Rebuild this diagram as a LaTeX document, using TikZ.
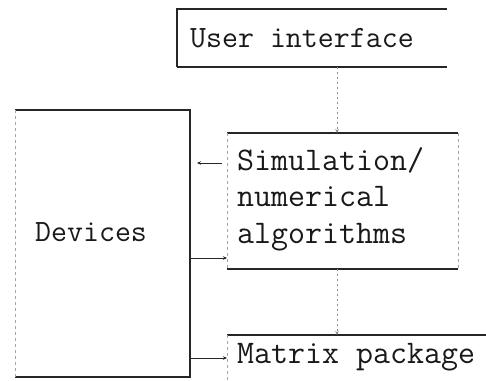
\documentclass[tikz,border=0pt]{standalone}
\usetikzlibrary{arrows.meta}
\begin{document}
\begin{tikzpicture}[x=1pt,y=-1pt,
  region/.style={inner sep=0pt, outer sep=0pt, draw=none},
  edge/.style={line width=1.1pt, black!85},
  faint/.style={line width=0.5pt, black!35, dash pattern=on 3pt off 3pt},
  label/.style={font=\fontsize{31}{36.5}\selectfont\ttfamily, align=left, inner sep=0pt, text=black!90},
  biglabel/.style={label, font=\fontsize{33}{36.5}\selectfont\ttfamily},
  tip/.style={-{Stealth[length=4pt,width=3.5pt]}},
  link/.style={line width=1pt, black!85, tip},
  flow/.style={line width=0.6pt, black!45, dash pattern=on 2pt off 3pt, tip}
]
\useasboundingbox (0,0) rectangle (486,380);

% block outlines (regions)
\node[region, minimum width=270pt, minimum height=58pt]  (ui)  at (312,38)    {};
\node[region, minimum width=175pt, minimum height=267pt] (dev) at (102.5,243.5) {};
\node[region, minimum width=231pt, minimum height=136pt] (sim) at (342.5,201) {};
\node[region, minimum width=259pt, minimum height=45pt]  (mat) at (356.5,357.5) {};

% user interface box
\draw[edge] (ui.south west) -- (ui.north west) -- (ui.north east);
\draw[edge] (ui.south west) -- (ui.south east);

% devices box
\draw[edge] (dev.north west) -- (dev.north east) -- (dev.south east) -- (dev.south west);
\draw[faint] (dev.north west) -- (dev.south west);

% simulation box
\draw[edge] (sim.north west) -- (sim.north east);
\draw[edge] (sim.south west) -- (sim.south east);
\draw[faint] (sim.north west) -- (sim.south west);
\draw[faint] (sim.north east) -- (sim.south east);

% matrix package box
\draw[edge] (mat.north west) -- (mat.north east);
\draw[faint] (mat.north west) -- (mat.south west);

% labels
\node[label, anchor=base west] (uit) at (190,47) {User interface};
\node[label, anchor=base west] (devt) at (35,241) {Devices};
\node[biglabel, anchor=north west] (simt) at (237,147) {Simulation/\\numerical\\algorithms};
\node[biglabel, anchor=base west] (matt) at (237,363) {Matrix package};

% vertical flows
\draw[flow] (ui.south -| 337,0) -- (sim.north -| 337,0);
\draw[flow] (sim.south -| 337,0) -- (mat.north -| 337,0);

% links to and from the devices
\draw[link, shorten <=5pt, shorten >=7pt] (sim.west |- 0,163) -- (dev.east |- 0,163);
\draw[link] (dev.east |- 0,258) -- (sim.west |- 0,258);
\draw[link] (dev.east |- 0,358) -- (mat.west |- 0,358);
\end{tikzpicture}
\end{document}
